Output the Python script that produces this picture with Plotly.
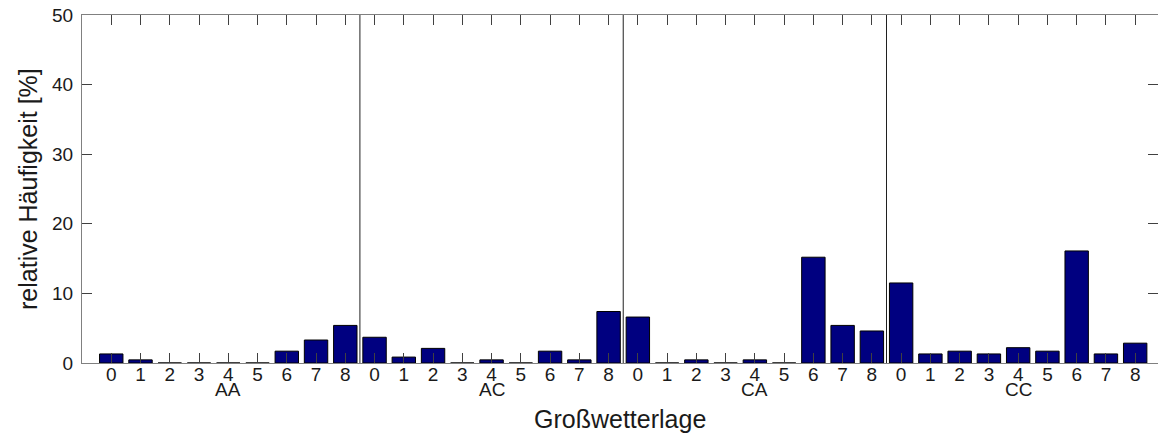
import plotly.graph_objects as go

groups = ["AA", "AC", "CA", "CC"]
sub_labels = ["0", "1", "2", "3", "4", "5", "6", "7", "8"]
values_AA = [1.3, 0.45, 0.0, 0.0, 0.0, 0.0, 1.7, 3.3, 5.4]
values_AC = [3.7, 0.85, 2.1, 0.0, 0.45, 0.0, 1.7, 0.45, 7.4]
values_CA = [6.6, 0.0, 0.45, 0.0, 0.45, 0.0, 15.2, 5.4, 4.6]
values_CC = [11.5, 1.3, 1.7, 1.3, 2.2, 1.7, 16.1, 1.3, 2.85]
y_ticks = [0, 10, 20, 30, 40, 50]

all_vals = values_AA + values_AC + values_CA + values_CC
n = len(sub_labels)
xs = list(range(1, len(all_vals) + 1))
tick_text = sub_labels * len(groups)

FONT = "Liberation Sans, Arial, sans-serif"
AX_COL = "#808080"
TICK_COL = "#404040"

fig = go.Figure()
fig.add_trace(go.Bar(
    x=xs, y=all_vals, width=0.8,
    marker=dict(color="#000080", line=dict(color="#000000", width=1)),
    showlegend=False,
))
fig.add_trace(go.Scatter(x=[None], y=[None], yaxis="y2", showlegend=False,
                         hoverinfo="skip"))

shapes = []
for g in range(1, len(groups)):
    sx = g * n + 0.5
    shapes.append(dict(type="line", xref="x", yref="y", x0=sx, x1=sx, y0=0, y1=50,
                       line=dict(color="#202020", width=1)))

annotations = []
for gi, name in enumerate(groups):
    annotations.append(dict(
        x=gi * n + (n + 1) / 2, y=0, xref="x", yref="paper",
        text=name, showarrow=False, yanchor="middle", yshift=-26,
        font=dict(family=FONT, size=19, color="#1a1a1a"),
    ))
annotations.append(dict(
    x=0.5, y=0, xref="paper", yref="paper", text="Großwetterlage",
    showarrow=False, yanchor="middle", yshift=-56,
    font=dict(family=FONT, size=25, color="#1a1a1a"),
))
annotations.append(dict(
    x=0, y=0.5, xref="paper", yref="paper", text="relative Häufigkeit [%]",
    showarrow=False, xanchor="center", yanchor="middle", xshift=-54, textangle=-90,
    font=dict(family=FONT, size=25, color="#1a1a1a"),
))

fig.update_layout(
    width=1158, height=436,
    margin=dict(l=82, r=0, t=15, b=73),
    paper_bgcolor="white", plot_bgcolor="white",
    bargap=0.2,
    shapes=shapes, annotations=annotations,
    xaxis=dict(
        range=[0, 36.78], tickmode="array", tickvals=xs, ticktext=tick_text,
        ticks="inside", ticklen=10, tickcolor=TICK_COL, tickwidth=1,
        showline=True, linecolor=AX_COL, linewidth=1, mirror="ticks",
        showgrid=False, zeroline=False, ticklabelstandoff=-6,
        tickfont=dict(family=FONT, size=19, color="#1a1a1a"),
    ),
    yaxis=dict(
        range=[0, 50], tickmode="array", tickvals=y_ticks,
        ticks="inside", ticklen=10, tickcolor=TICK_COL, tickwidth=1,
        showline=True, linecolor=AX_COL, linewidth=1, mirror=False,
        showgrid=False, zeroline=False, ticklabelstandoff=4,
        tickfont=dict(family=FONT, size=19, color="#1a1a1a"),
    ),
    yaxis2=dict(
        overlaying="y", side="right", range=[0, 50], tickmode="array",
        tickvals=y_ticks, ticks="inside", ticklen=10, tickcolor=TICK_COL,
        showline=False, showgrid=False, zeroline=False, showticklabels=False,
    ),
)

fig.write_html("out.html")
